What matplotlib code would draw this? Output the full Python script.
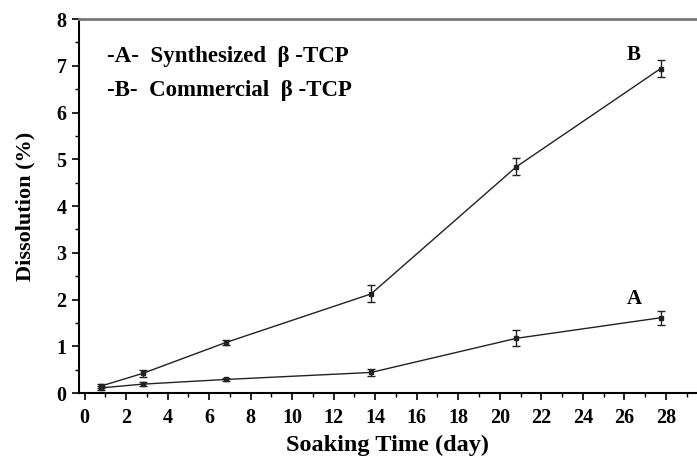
import matplotlib
matplotlib.use("Agg")
import matplotlib.pyplot as plt
from matplotlib.ticker import MultipleLocator

plt.rcParams['font.family'] = ['Liberation Serif', 'DejaVu Serif']
plt.rcParams['font.weight'] = 'bold'

# Soaking time (days) and dissolution (%) with error bars
days = [0.8, 2.8, 6.8, 13.8, 20.8, 27.75]
diss_a = [0.11, 0.19, 0.29, 0.44, 1.17, 1.61]
err_a = [0.04, 0.04, 0.04, 0.08, 0.17, 0.15]
diss_b = [0.15, 0.42, 1.08, 2.12, 4.84, 6.94]
err_b = [0.05, 0.08, 0.05, 0.18, 0.18, 0.18]

legend_lines = ["-A-  Synthesized  \u03b2 -TCP", "-B-  Commercial  \u03b2 -TCP"]

fig = plt.figure(figsize=(6.97, 4.57), dpi=100)
ax = fig.add_axes([0.1133, 0.140, 0.8867, 0.8184])

for y, e in [(diss_a, err_a), (diss_b, err_b)]:
    ax.errorbar(days, y, yerr=e, color='#222222', lw=1.0, marker='s', ms=2.5,
                capsize=3, elinewidth=1.0, capthick=1.0)

ax.set_xlim(-0.27, 29.5)
ax.set_ylim(0, 8)
ax.xaxis.set_major_locator(MultipleLocator(2))
ax.xaxis.set_minor_locator(MultipleLocator(1))
ax.yaxis.set_major_locator(MultipleLocator(1))
ax.yaxis.set_minor_locator(MultipleLocator(0.5))
ax.tick_params(which='major', direction='out', length=5, width=1.2, labelsize=14.5)
ax.tick_params(axis='x', which='major', pad=6)
ax.tick_params(axis='y', which='major', pad=4)
ax.tick_params(which='minor', direction='out', length=3, width=1.0)
for lab in ax.get_xticklabels() + ax.get_yticklabels():
    lab.set_fontweight('bold')

ax.spines['right'].set_visible(False)
ax.spines['left'].set_linewidth(1.5)
ax.spines['bottom'].set_linewidth(1.5)
ax.spines['top'].set_linewidth(2.0)
ax.spines['top'].set_color('#777777')

ax.set_xlabel('Soaking Time (day)', fontsize=17.5, fontweight='bold', labelpad=4.5)
ax.set_ylabel('Dissolution (%)', fontsize=16, fontweight='bold', labelpad=15)

ax.text(1.1, 7.2, legend_lines[0], fontsize=16.5, fontweight='bold', va='center')
ax.text(1.1, 6.48, legend_lines[1], fontsize=16.5, fontweight='bold', va='center')
ax.text(26.1, 7.23, 'B', fontsize=15, fontweight='bold', va='center')
ax.text(26.1, 2.01, 'A', fontsize=15, fontweight='bold', va='center')

fig.savefig('out.png', dpi=100)
